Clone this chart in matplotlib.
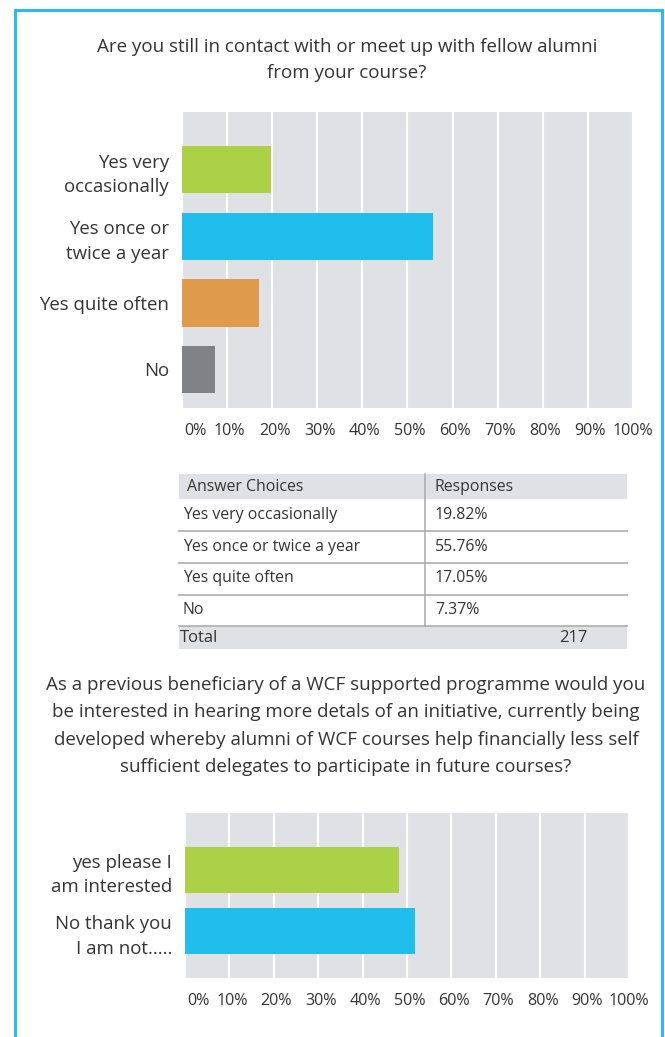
import matplotlib
matplotlib.use('Agg')
import matplotlib.pyplot as plt
import matplotlib.transforms as mtransforms
from matplotlib.patches import Rectangle

# ---------------- data ----------------
q1_title = "Are you still in contact with or meet up with fellow alumni\nfrom your course?"
q1_categories = ["Yes very\noccasionally", "Yes once or\ntwice a year", "Yes quite often", "No"]
q1_values = [19.82, 55.76, 17.05, 7.37]
q1_colors = ["#acd046", "#1fbeec", "#df9a4c", "#818285"]

table_choices = ["Yes very occasionally", "Yes once or twice a year", "Yes quite often", "No"]
table_responses = ["19.82%", "55.76%", "17.05%", "7.37%"]
table_total = 217

q2_title = ("As a previous beneficiary of a WCF supported programme would you\n"
            "be interested in hearing more detals of an initiative, currently being\n"
            "developed whereby alumni of WCF courses help financially less self\n"
            "sufficient delegates to participate in future courses?")
q2_categories = ["yes please I\nam interested", "No thank you\nI am not....."]
q2_values = [48.2, 51.8]
q2_colors = ["#acd046", "#1fbeec"]

ticks = list(range(0, 101, 10))
tick_labels = [f"{t}%" for t in ticks]

# ---------------- style ----------------
plt.rcParams['font.family'] = ['Open Sans', 'DejaVu Sans']
TXT = "#343434"
BG = "#dfe1e4"
BORDER = "#29bdef"

W, H = 665, 1037
fig = plt.figure(figsize=(W / 100, H / 100), dpi=100)


def rect(x0, y0, x1, y1):
    return [x0 / W, 1 - y1 / H, (x1 - x0) / W, (y1 - y0) / H]


# overlay axes in pixel coordinates (top-left origin)
ov = fig.add_axes([0, 0, 1, 1])
ov.set_xlim(0, W)
ov.set_ylim(H, 0)
ov.axis('off')

# border
ov.plot([15, 15], [10, H + 5], color=BORDER, lw=2.2, solid_capstyle='butt')
ov.plot([662, 662], [10, H + 5], color=BORDER, lw=2.2, solid_capstyle='butt')
ov.plot([15, 662], [10, 10], color=BORDER, lw=2.2, solid_capstyle='projecting')

# titles
ov.text(347, 60, q1_title, ha='center', va='center', multialignment='center',
        fontsize=13.5, color=TXT, linespacing=1.6)
ov.text(346, 726, q2_title, ha='center', va='center', multialignment='center',
        fontsize=13.5, color=TXT, linespacing=1.67)


def bar_chart(r, cats, vals, cols, ylim, height):
    ax = fig.add_axes(r)
    ax.set_facecolor(BG)
    ax.barh(range(len(cats)), vals, color=cols, height=height, zorder=3)
    ax.set_xlim(0, 100)
    ax.set_ylim(*ylim)
    ax.set_xticks(ticks)
    ax.set_xticklabels(tick_labels)
    ax.set_yticks(range(len(cats)))
    ax.set_yticklabels(cats, linespacing=1.45)
    ax.grid(axis='x', color='white', lw=1.6, zorder=1)
    ax.set_axisbelow(True)
    for s in ax.spines.values():
        s.set_visible(False)
    ax.tick_params(axis='both', length=0, colors=TXT)
    ax.tick_params(axis='x', labelsize=11.6, pad=11)
    ax.tick_params(axis='y', labelsize=13.4, pad=9.4)
    shift = mtransforms.ScaledTranslation(2.5 / 100, 0, fig.dpi_scale_trans)
    labels = ax.get_xticklabels()
    for lab in labels:
        lab.set_transform(lab.get_transform() + shift)
    labels[0].set_horizontalalignment('left')
    labels[-1].set_transform(labels[-1].get_transform()
                             + mtransforms.ScaledTranslation(-2.5 / 100, 0, fig.dpi_scale_trans))
    return ax


bar_chart(rect(182, 112, 633, 408), q1_categories, q1_values, q1_colors,
          (3.58, -0.87), 0.71)
bar_chart(rect(185, 813, 629, 978), q2_categories, q2_values, q2_colors,
          (1.76, -0.93), 0.75)

# table
TL, TR, SEP = 179, 627, 425
FS = 11.4
ov.add_patch(Rectangle((TL, 474), TR - TL, 25, color=BG, lw=0))
ov.add_patch(Rectangle((TL, 626), TR - TL, 23, color=BG, lw=0))
ov.text(187, 487, "Answer Choices", fontsize=FS, color=TXT, va='center')
ov.text(435, 487, "Responses", fontsize=FS, color=TXT, va='center')
row_edges = [499, 531, 562.5, 594.5, 626]
for i, (c, r) in enumerate(zip(table_choices, table_responses)):
    yc = (row_edges[i] + row_edges[i + 1]) / 2
    ov.text(183, yc, c, fontsize=FS, color=TXT, va='center')
    ov.text(435, yc, r, fontsize=FS, color=TXT, va='center')
    ov.plot([TL, TR], [row_edges[i + 1], row_edges[i + 1]], color='#b3b3b3', lw=1.3)
ov.plot([SEP, SEP], [474, 626], color='#a8a8a8', lw=1.1)
ov.text(180, 638, "Total", fontsize=FS + 0.6, color=TXT, va='center')
ov.text(573, 638, str(table_total), fontsize=FS + 0.6, color=TXT, va='center', ha='center')

fig.savefig('out.png', dpi=100)
